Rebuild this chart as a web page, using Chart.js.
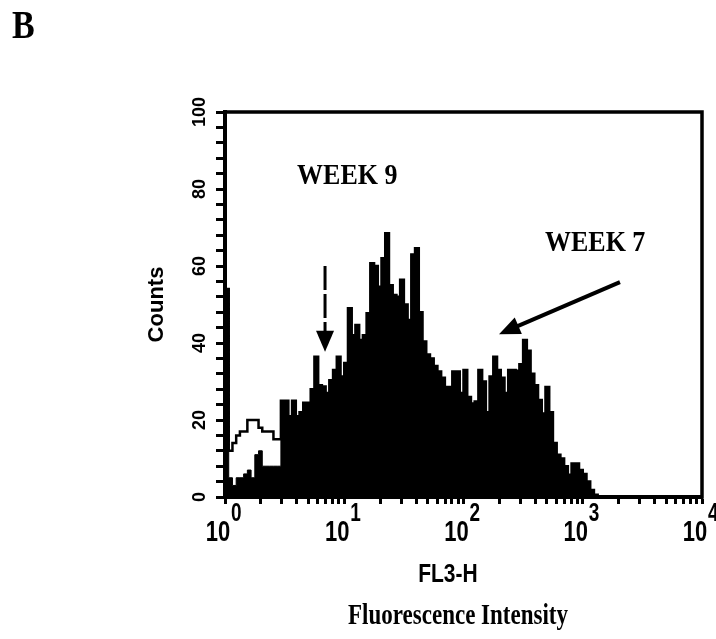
<!DOCTYPE html>
<html><head><meta charset="utf-8">
<script src="https://cdn.jsdelivr.net/npm/chart.js@4.4.1/dist/chart.umd.min.js"></script>
<style>html,body{margin:0;padding:0;background:#fff}#wrap{width:716px;height:639px;position:relative}</style>
</head><body><div id="wrap"><canvas id="c" width="716" height="639"></canvas></div>
<script>
// 128 channels over four decades (32 channels per decade), FL3-H 10^0 .. 10^4
const channelsPerDecade = 32;

// Filled histogram (black)
const week9Counts = [
  54, 54, 5, 3, 5, 5, 6, 7, 5, 11,
  12, 8, 8, 8, 8, 8, 25, 25, 21, 25,
  21, 22, 24.5, 24.5, 28, 36.4, 29, 28.7, 27, 30.3,
  33, 36.4, 31.3, 34.8, 49, 42, 44.7, 40.8, 42, 47.7,
  60.7, 60, 54.6, 62, 68.5, 55, 52.5, 52, 56.4, 50,
  46, 63, 64.6, 48, 40.4, 37, 36, 34, 32.6, 31,
  28.6, 28.6, 32.6, 32.6, 27, 33, 26, 24.3, 24.8, 33,
  30, 22, 31.3, 36.4, 33, 31, 27, 33, 33, 32.8,
  34.5, 40.8, 38, 32, 29, 25.2, 21.7, 28.6, 22, 14,
  11, 10, 8, 5.8, 8.7, 8.7, 7, 6, 4, 1.8,
  0.6, 0, 0, 0, 0, 0, 0, 0, 0, 0,
  0, 0, 0, 0, 0, 0, 0, 0, 0, 0,
  0, 0, 0, 0, 0, 0, 0, 0
];

// Open (outline) histogram
const week7Counts = [
  54, 54, 12, 14, 16, 17, 17, 20, 20, 20,
  18, 17, 17, 17, 15, 15, 25, 25, 21, 25,
  21, 22, 24.5, 24.5, 28, 36.4, 29, 28.7, 27, 30.3,
  33, 36.4, 31.3, 34.8, 49, 42, 44.7, 40.8, 42, 47.7,
  60.7, 60, 54.6, 62, 68.5, 55, 52.5, 52, 56.4, 50,
  46, 63, 64.6, 48, 40.4, 37, 36, 34, 32.6, 31,
  28.6, 28.6, 32.6, 32.6, 27, 33, 26, 24.3, 24.8, 33,
  30, 22, 31.3, 36.4, 33, 31, 27, 33, 33, 32.8,
  34.5, 40.8, 38, 32, 29, 25.2, 21.7, 28.6, 22, 14,
  11, 10, 8, 5.8, 8.7, 8.7, 7, 6, 4, 1.8,
  0.6, 0, 0, 0, 0, 0, 0, 0, 0, 0,
  0, 0, 0, 0, 0, 0, 0, 0, 0, 0,
  0, 0, 0, 0, 0, 0, 0, 0
];

const xTickValues = [1,2,3,4,5,6,7,8,9,10,20,30,40,50,60,70,80,90,100,200,300,400,500,600,700,800,900,1000,2000,3000,4000,5000,6000,7000,8000,9000,10000];
const xLabelValues = [1, 10, 100, 1000, 10000];
const xLabelExponents = ['0', '1', '2', '3', '4'];
const yLabelEvery = 20;

const xTitle = 'FL3-H';
const yTitle = 'Counts';
const bottomCaption = 'Fluorescence Intensity';
const panelLetter = 'B';

const textNotes = [
  { text: 'WEEK 9', x: 4.02, y: 81.3 },
  { text: 'WEEK 7', x: 482, y: 63.9 }
];
const arrowNotes = [
  { from: [6.9, 60.0], to: [6.9, 37.7], dashed: true, width: 3 },
  { from: [2051, 55.8], to: [198.5, 42.3], dashed: false, width: 4 }
];

const binEdges = [];
for (let k = 0; k <= week9Counts.length; k++) binEdges.push(Math.pow(10, k / channelsPerDecade));
function toSteps(vals) {
  const pts = vals.map((y, k) => ({ x: binEdges[k], y }));
  pts.push({ x: binEdges[vals.length], y: vals[vals.length - 1] });
  return pts;
}

function stretchedText(ctx, txt, x, y, font, align, sy) {
  ctx.save();
  ctx.translate(x, y);
  ctx.scale(1, sy);
  ctx.font = font;
  ctx.textAlign = align;
  ctx.textBaseline = 'alphabetic';
  ctx.fillStyle = '#000';
  ctx.fillText(txt, 0, 0);
  ctx.restore();
}

function drawArrow(ctx, x1, y1, x2, y2, w, dashed) {
  const ang = Math.atan2(y2 - y1, x2 - x1);
  const headLen = 21, headW = 9;
  const bx = x2 - headLen * Math.cos(ang), by = y2 - headLen * Math.sin(ang);
  ctx.save();
  ctx.strokeStyle = '#000';
  ctx.fillStyle = '#000';
  ctx.lineWidth = w;
  ctx.lineCap = 'butt';
  if (dashed) ctx.setLineDash([24, 4]);
  ctx.beginPath();
  ctx.moveTo(x1, y1);
  ctx.lineTo(bx + 2 * Math.cos(ang), by + 2 * Math.sin(ang));
  ctx.stroke();
  ctx.setLineDash([]);
  ctx.beginPath();
  ctx.moveTo(x2, y2);
  ctx.lineTo(bx + headW * Math.sin(ang), by - headW * Math.cos(ang));
  ctx.lineTo(bx - headW * Math.sin(ang), by + headW * Math.cos(ang));
  ctx.closePath();
  ctx.fill();
  ctx.restore();
}

const decorPlugin = {
  id: 'decor',
  afterDraw(chart) {
    const ctx = chart.ctx;
    const xs = chart.scales.x, ys = chart.scales.y;
    const a = chart.chartArea;
    ctx.save();
    ctx.strokeStyle = '#000';
    ctx.lineWidth = 3.5;
    ctx.strokeRect(a.left, a.top, a.right - a.left, a.bottom - a.top);
    ctx.restore();
    xLabelValues.forEach((v, i) => {
      const px = xs.getPixelForValue(v);
      stretchedText(ctx, '10', px - 7, a.bottom + 44, 'bold 22px "Liberation Sans", Arial, sans-serif', 'center', 1.38);
      stretchedText(ctx, xLabelExponents[i], px + 6, a.bottom + 24, 'bold 19px "Liberation Sans", Arial, sans-serif', 'left', 1.38);
    });
    stretchedText(ctx, xTitle, xs.getPixelForValue(74), a.bottom + 85, 'bold 21px "Liberation Sans", Arial, sans-serif', 'center', 1.25);
    stretchedText(ctx, bottomCaption, xs.getPixelForValue(90), a.bottom + 127, 'bold 23px "Liberation Serif", "Times New Roman", serif', 'center', 1.25);
    stretchedText(ctx, panelLetter, 12, 38, 'bold 34px "Liberation Serif", "Times New Roman", serif', 'left', 1.15);
    textNotes.forEach(n => {
      stretchedText(ctx, n.text, xs.getPixelForValue(n.x), ys.getPixelForValue(n.y), 'bold 26px "Liberation Serif", "Times New Roman", serif', 'left', 1.1);
    });
    arrowNotes.forEach(n => {
      drawArrow(ctx, xs.getPixelForValue(n.from[0]), ys.getPixelForValue(n.from[1]),
        xs.getPixelForValue(n.to[0]), ys.getPixelForValue(n.to[1]), n.width, n.dashed);
    });
  }
};

new Chart(document.getElementById('c'), {
  type: 'line',
  data: {
    datasets: [
      { label: 'WEEK 7', data: toSteps(week7Counts), stepped: 'after', fill: false,
        borderColor: '#000', borderWidth: 2.5, pointRadius: 0 },
      { label: 'WEEK 9', data: toSteps(week9Counts), stepped: 'after', fill: 'origin',
        borderColor: '#000', backgroundColor: '#000', borderWidth: 1, pointRadius: 0 }
    ]
  },
  options: {
    responsive: false,
    animation: false,
    devicePixelRatio: 1,
    layout: { padding: { left: 140, top: 112, right: 14, bottom: 0 } },
    plugins: { legend: { display: false }, tooltip: { enabled: false } },
    scales: {
      x: {
        type: 'logarithmic', min: 1, max: 10000,
        afterBuildTicks: (s) => { s.ticks = xTickValues.map(v => ({ value: v })); },
        afterFit: (s) => { s.height = 142; },
        ticks: { display: false, autoSkip: false },
        grid: { drawOnChartArea: false, drawTicks: true, tickLength: 7, tickWidth: 3, tickColor: '#000', color: '#000' },
        border: { display: true, width: 4, color: '#000' }
      },
      y: {
        type: 'linear', min: 0, max: 100,
        afterFit: (s) => { s.width = 85; },
        ticks: {
          stepSize: 4, autoSkip: false, minRotation: 90, maxRotation: 90, crossAlign: 'center', padding: 1,
          color: '#000', font: { family: '"Liberation Sans", Arial, sans-serif', size: 18, weight: 'bold' },
          callback: (v) => (v % yLabelEvery === 0 ? String(v) : '')
        },
        grid: { drawOnChartArea: false, drawTicks: true, tickLength: 9, tickWidth: 3, tickColor: '#000', color: '#000' },
        border: { display: true, width: 4, color: '#000' },
        title: { display: true, text: yTitle, color: '#000', padding: { top: 4, bottom: 0 },
          font: { family: '"Liberation Sans", Arial, sans-serif', size: 22, weight: 'bold' } }
      }
    }
  },
  plugins: [decorPlugin]
});
</script></body></html>
